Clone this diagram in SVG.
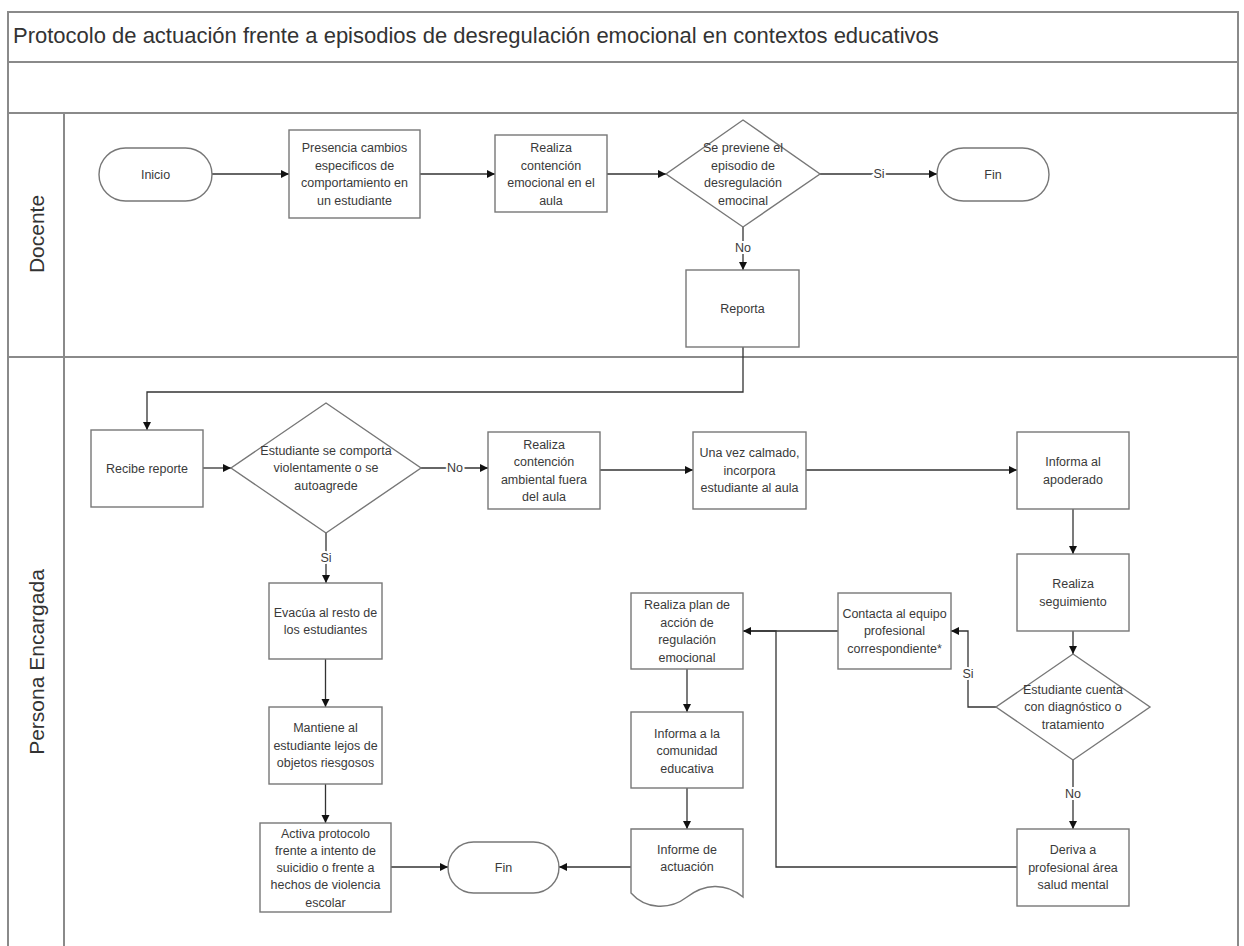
<svg xmlns="http://www.w3.org/2000/svg" width="1244" height="946" viewBox="0 0 1244 946">
<style>
.frame{fill:none;stroke:#8a8a8a;stroke-width:2}
.box{fill:#fff;stroke:#777;stroke-width:1.4}
.t{font-family:"Liberation Sans",Arial,sans-serif;font-size:12.5px;fill:#3a3a3a;text-anchor:middle;dominant-baseline:central}
.lbl{font-family:"Liberation Sans",Arial,sans-serif;font-size:12.5px;fill:#3a3a3a;text-anchor:middle;dominant-baseline:central;stroke:#fff;stroke-width:4;paint-order:stroke}
.lane{font-family:"Liberation Sans",Arial,sans-serif;font-size:21px;fill:#333;text-anchor:middle;dominant-baseline:central}
.title{font-family:"Liberation Sans",Arial,sans-serif;font-size:22px;fill:#333}
.c{fill:none;stroke:#333;stroke-width:1.3}
</style>
<defs>
<marker id="ah" markerUnits="userSpaceOnUse" markerWidth="9" markerHeight="9" refX="8" refY="4" orient="auto">
<path d="M0,0 L8,4 L0,8 z" fill="#111"/>
</marker>
</defs>
<rect width="1244" height="946" fill="#fff"/>
<g id="frame">
<rect class="frame" x="8" y="12" width="1230" height="960"/>
<line class="frame" x1="8" y1="62" x2="1238" y2="62"/>
<line class="frame" x1="8" y1="113" x2="1238" y2="113"/>
<line class="frame" x1="8" y1="357" x2="1238" y2="357"/>
<line class="frame" x1="64" y1="113" x2="64" y2="960"/>
<text class="title" x="13" y="43">Protocolo de actuación frente a episodios de desregulación emocional en contextos educativos</text>
<text class="lane" transform="translate(36,234) rotate(-90)">Docente</text>
<text class="lane" transform="translate(36,662) rotate(-90)">Persona Encargada</text>
</g>
<g id="connectors">
<path class="c" d="M212,174 H289" marker-end="url(#ah)"/>
<path class="c" d="M420,174 H495" marker-end="url(#ah)"/>
<path class="c" d="M607,174 H666" marker-end="url(#ah)"/>
<path class="c" d="M820,174 H937" marker-end="url(#ah)"/>
<text class="lbl" x="879" y="174">Si</text>
<path class="c" d="M743,227 V270" marker-end="url(#ah)"/>
<text class="lbl" x="743" y="248">No</text>
<path class="c" d="M743,347 V392 H147 V430" marker-end="url(#ah)"/>
<path class="c" d="M203,468 H231" marker-end="url(#ah)"/>
<path class="c" d="M421,468 H488" marker-end="url(#ah)"/>
<text class="lbl" x="455" y="468">No</text>
<path class="c" d="M600,470 H693" marker-end="url(#ah)"/>
<path class="c" d="M806,470 H1017" marker-end="url(#ah)"/>
<path class="c" d="M1073,509 V554" marker-end="url(#ah)"/>
<path class="c" d="M1073,631 V654" marker-end="url(#ah)"/>
<path class="c" d="M996,707 H968 V631 H951" marker-end="url(#ah)"/>
<text class="lbl" x="968" y="674">Si</text>
<path class="c" d="M1073,760 V829" marker-end="url(#ah)"/>
<text class="lbl" x="1073" y="794">No</text>
<path class="c" d="M1017,867 H776 V631 H743"/>
<path class="c" d="M838,631 H743" marker-end="url(#ah)"/>
<path class="c" d="M687,669 V712" marker-end="url(#ah)"/>
<path class="c" d="M687,788 V829" marker-end="url(#ah)"/>
<path class="c" d="M631,867 H559" marker-end="url(#ah)"/>
<path class="c" d="M326,533 V583" marker-end="url(#ah)"/>
<text class="lbl" x="326" y="558">Si</text>
<path class="c" d="M325.5,659 V707" marker-end="url(#ah)"/>
<path class="c" d="M325.5,784 V823" marker-end="url(#ah)"/>
<path class="c" d="M391,867 H448" marker-end="url(#ah)"/>
</g>
<g id="inicio">
<rect class="box" x="99" y="148" width="113" height="53" rx="26.5"/>
<text class="t" x="155.5" y="174.5">Inicio</text>
</g>
<g id="presencia">
<rect class="box" x="289" y="130" width="131" height="88"/>
<text class="t" x="354.5" y="148">Presencia cambios</text>
<text class="t" x="354.5" y="165.5">especificos de</text>
<text class="t" x="354.5" y="183">comportamiento en</text>
<text class="t" x="354.5" y="200.5">un estudiante</text>
</g>
<g id="contencion-aula">
<rect class="box" x="495" y="135" width="112" height="77"/>
<text class="t" x="551" y="148">Realiza</text>
<text class="t" x="551" y="165.5">contención</text>
<text class="t" x="551" y="183">emocional en el</text>
<text class="t" x="551" y="200.5">aula</text>
</g>
<g id="previene">
<polygon class="box" points="743,120 820,174 743,227 666,174"/>
<text class="t" x="743" y="148">Se previene el</text>
<text class="t" x="743" y="165.5">episodio de</text>
<text class="t" x="743" y="183">desregulación</text>
<text class="t" x="743" y="200.5">emocinal</text>
</g>
<g id="fin1">
<rect class="box" x="937" y="148" width="112" height="53" rx="26.5"/>
<text class="t" x="993" y="174.5">Fin</text>
</g>
<g id="reporta">
<rect class="box" x="686" y="270" width="113" height="77"/>
<text class="t" x="742.5" y="308.5">Reporta</text>
</g>
<g id="recibe">
<rect class="box" x="91" y="430" width="112" height="77"/>
<text class="t" x="147" y="468.5">Recibe reporte</text>
</g>
<g id="violento">
<polygon class="box" points="326,403 421,468 326,533 231,468"/>
<text class="t" x="326" y="450.5">Estudiante se comporta</text>
<text class="t" x="326" y="468">violentamente o se</text>
<text class="t" x="326" y="485.5">autoagrede</text>
</g>
<g id="ambiental">
<rect class="box" x="488" y="432" width="112" height="77"/>
<text class="t" x="544" y="444.5">Realiza</text>
<text class="t" x="544" y="462">contención</text>
<text class="t" x="544" y="479.5">ambiental fuera</text>
<text class="t" x="544" y="497">del aula</text>
</g>
<g id="calmado">
<rect class="box" x="693" y="432" width="113" height="77"/>
<text class="t" x="749.5" y="453">Una vez calmado,</text>
<text class="t" x="749.5" y="470.5">incorpora</text>
<text class="t" x="749.5" y="488">estudiante al aula</text>
</g>
<g id="apoderado">
<rect class="box" x="1017" y="432" width="112" height="77"/>
<text class="t" x="1073" y="462">Informa al</text>
<text class="t" x="1073" y="479.5">apoderado</text>
</g>
<g id="seguimiento">
<rect class="box" x="1017" y="554" width="112" height="77"/>
<text class="t" x="1073" y="584">Realiza</text>
<text class="t" x="1073" y="601.5">seguimiento</text>
</g>
<g id="diagnostico">
<polygon class="box" points="1073,654 1150,707 1073,760 996,707"/>
<text class="t" x="1073" y="689.5">Estudiante cuenta</text>
<text class="t" x="1073" y="707">con diagnóstico o</text>
<text class="t" x="1073" y="724.5">tratamiento</text>
</g>
<g id="contacta">
<rect class="box" x="838" y="593" width="113" height="76"/>
<text class="t" x="894.5" y="613.5">Contacta al equipo</text>
<text class="t" x="894.5" y="631">profesional</text>
<text class="t" x="894.5" y="648.5">correspondiente*</text>
</g>
<g id="plan">
<rect class="box" x="631" y="593" width="112" height="76"/>
<text class="t" x="687" y="605">Realiza plan de</text>
<text class="t" x="687" y="622.5">acción de</text>
<text class="t" x="687" y="640">regulación</text>
<text class="t" x="687" y="657.5">emocional</text>
</g>
<g id="comunidad">
<rect class="box" x="631" y="712" width="112" height="76"/>
<text class="t" x="687" y="733.5">Informa a la</text>
<text class="t" x="687" y="751">comunidad</text>
<text class="t" x="687" y="768.5">educativa</text>
</g>
<g id="informe">
<path class="box" d="M631,829 H743 V897 C725,882 704,884 687,897 C670,910 646,910 631,893 Z"/>
<text class="t" x="687" y="849.5">Informe de</text>
<text class="t" x="687" y="867">actuación</text>
</g>
<g id="deriva">
<rect class="box" x="1017" y="829" width="112" height="77"/>
<text class="t" x="1073" y="850">Deriva a</text>
<text class="t" x="1073" y="867.5">profesional área</text>
<text class="t" x="1073" y="885">salud mental</text>
</g>
<g id="evacua">
<rect class="box" x="269" y="583" width="113" height="76"/>
<text class="t" x="325.5" y="612.5">Evacúa al resto de</text>
<text class="t" x="325.5" y="630">los estudiantes</text>
</g>
<g id="mantiene">
<rect class="box" x="269" y="707" width="113" height="77"/>
<text class="t" x="325.5" y="728">Mantiene al</text>
<text class="t" x="325.5" y="745.5">estudiante lejos de</text>
<text class="t" x="325.5" y="763">objetos riesgosos</text>
</g>
<g id="activa">
<rect class="box" x="260" y="823" width="131" height="89"/>
<text class="t" x="325.5" y="833.5">Activa protocolo</text>
<text class="t" x="325.5" y="851">frente a intento de</text>
<text class="t" x="325.5" y="868">suicidio o frente a</text>
<text class="t" x="325.5" y="885">hechos de violencia</text>
<text class="t" x="325.5" y="902.5">escolar</text>
</g>
<g id="fin2">
<rect class="box" x="448" y="842" width="111" height="51" rx="25.5"/>
<text class="t" x="503.5" y="867.5">Fin</text>
</g>
</svg>
